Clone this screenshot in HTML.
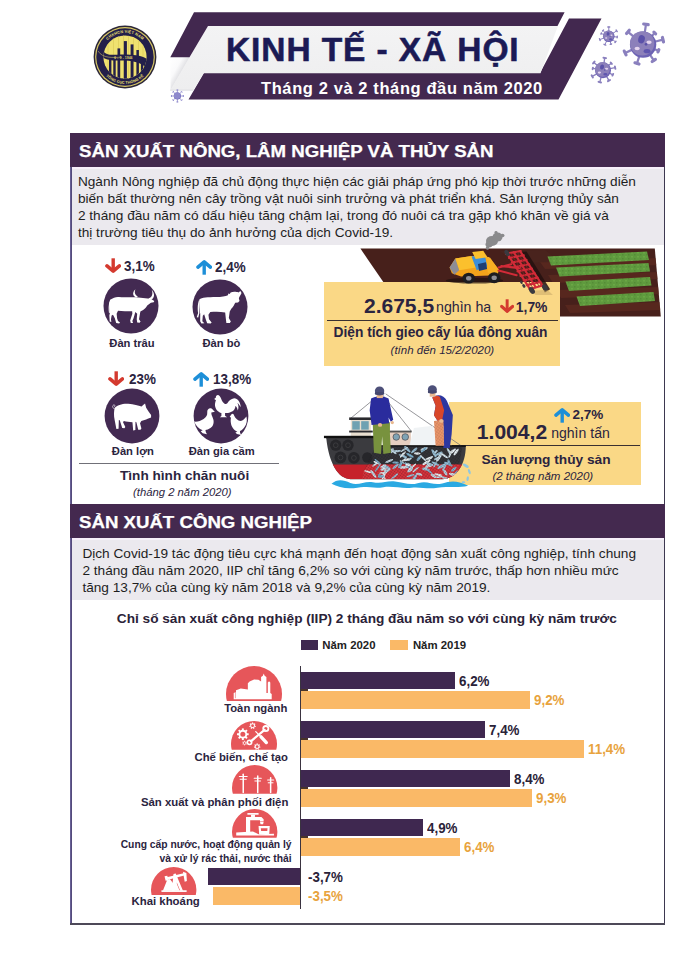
<!DOCTYPE html>
<html><head><meta charset="utf-8">
<style>
html,body{margin:0;padding:0;background:#fff;}
body{width:679px;height:960px;position:relative;overflow:hidden;font-family:"Liberation Sans",sans-serif;color:#222;}
.abs{position:absolute;white-space:nowrap;}
.b{font-weight:bold;}
.fl{position:absolute;}
.hdr{position:absolute;left:70.3px;width:595px;height:33.9px;background:#44294f;}
.lav{position:absolute;left:72px;width:591.6px;height:2.4px;background:#f7effa;}
.hdr span{position:absolute;left:8.5px;top:0.8px;line-height:35px;color:#fff;font-weight:bold;font-size:15.6px;white-space:nowrap;transform:scaleX(1.195);transform-origin:0 50%;-webkit-text-stroke:0.25px #fff;}
.gray{position:absolute;left:72px;width:591.6px;background:#ebe9ee;}
.p{position:absolute;left:77.9px;font-size:13.65px;line-height:17px;white-space:nowrap;color:#1e1e1e;}
</style></head><body>


<!-- TOP BANNER -->
<svg class="abs" style="left:0;top:0" width="679" height="125" viewBox="0 0 679 125">
  <defs>
    <linearGradient id="fold" gradientUnits="userSpaceOnUse" x1="166" y1="66" x2="182" y2="75">
      <stop offset="0" stop-color="#ffffff"/><stop offset="0.55" stop-color="#fafafb"/><stop offset="1" stop-color="#d9d9dd"/>
    </linearGradient>
    <linearGradient id="wb" x1="0" y1="0" x2="0" y2="1">
      <stop offset="0" stop-color="#f3f3f4"/><stop offset="1" stop-color="#eeeeef"/>
    </linearGradient>
  </defs>
  <!-- lower/right purple -->
  <polygon points="204,73 540,73 569,18.5 601.5,18.5 558.5,99.5 188.5,99.5" fill="#42284f"/>
  <!-- white band -->
  <polygon points="208,25.7 558,25.7 540.5,73.3 203.5,73.3 193.5,90 170.6,90" fill="url(#wb)"/>
  <!-- fold -->
  <polygon points="170.3,57 189.8,57 170.6,90" fill="url(#fold)"/>
  <rect x="170" y="89.7" width="23.5" height="0.9" fill="#dadade"/>
  <!-- top purple -->
  <polygon points="194,12.2 564.6,12.2 557.5,25.9 208,25.9 189.5,57.2 170.3,57.2" fill="#42284f"/>
</svg>
<div class="abs b" id="title" style="left:226px;top:30px;font-size:33.5px;line-height:40px;color:#1b1a55;letter-spacing:0.9px;-webkit-text-stroke:0.55px #1b1a55">KINH TẾ - XÃ HỘI</div>
<div class="abs b" id="subtitle" style="left:261px;top:77.5px;font-size:16.5px;line-height:20px;color:#fff;letter-spacing:0.6px">Tháng 2 và 2 tháng đầu năm 2020</div>

<svg class="abs" style="left:0;top:0" width="679" height="125" viewBox="0 0 679 125"><g transform="translate(643.1,44.6)"><line x1="1.65" y1="-11.76" x2="2.85" y2="-20.26" stroke="#8a80be" stroke-width="2.24" stroke-linecap="round"/><line x1="0.58" y1="-20.58" x2="5.11" y2="-19.94" stroke="#8a80be" stroke-width="3.17" stroke-linecap="round"/><line x1="8.40" y1="-8.40" x2="11.67" y2="-11.67" stroke="#8a80be" stroke-width="2.24" stroke-linecap="round"/><line x1="10.80" y1="-12.54" x2="12.54" y2="-10.80" stroke="#8a80be" stroke-width="3.17" stroke-linecap="round"/><line x1="11.53" y1="-2.87" x2="19.85" y2="-4.95" stroke="#8a80be" stroke-width="2.24" stroke-linecap="round"/><line x1="19.30" y1="-7.17" x2="20.41" y2="-2.73" stroke="#8a80be" stroke-width="3.17" stroke-linecap="round"/><line x1="11.01" y1="4.45" x2="15.30" y2="6.18" stroke="#8a80be" stroke-width="2.24" stroke-linecap="round"/><line x1="15.76" y1="5.04" x2="14.84" y2="7.32" stroke="#8a80be" stroke-width="3.17" stroke-linecap="round"/><line x1="6.64" y1="9.85" x2="10.70" y2="15.87" stroke="#8a80be" stroke-width="2.24" stroke-linecap="round"/><line x1="12.31" y1="14.79" x2="9.10" y2="16.95" stroke="#8a80be" stroke-width="3.17" stroke-linecap="round"/><line x1="-3.67" y1="11.30" x2="-6.12" y2="18.83" stroke="#8a80be" stroke-width="2.24" stroke-linecap="round"/><line x1="-4.11" y1="19.48" x2="-8.13" y2="18.18" stroke="#8a80be" stroke-width="3.17" stroke-linecap="round"/><line x1="-10.77" y1="5.02" x2="-17.94" y2="8.37" stroke="#8a80be" stroke-width="2.24" stroke-linecap="round"/><line x1="-17.05" y1="10.28" x2="-18.84" y2="6.45" stroke="#8a80be" stroke-width="3.17" stroke-linecap="round"/><line x1="-9.10" y1="-7.64" x2="-15.17" y2="-12.73" stroke="#8a80be" stroke-width="2.24" stroke-linecap="round"/><line x1="-16.53" y1="-11.11" x2="-13.81" y2="-14.35" stroke="#8a80be" stroke-width="3.17" stroke-linecap="round"/><circle r="13.2" fill="#6c62b4"/><circle cx="-0.92" cy="-1.19" r="12.14" fill="#8c80ba"/><ellipse cx="-2.90" cy="-4.75" rx="3.30" ry="4.22" fill="#5b51a9" transform="rotate(15)"/><ellipse cx="5.94" cy="-2.38" rx="2.64" ry="1.72" fill="#e4d4ee"/><ellipse cx="-5.94" cy="3.96" rx="2.64" ry="1.72" fill="#e4d4ee"/><circle cx="2.90" cy="-0.26" r="1.32" fill="#5b51a9"/><ellipse cx="3.96" cy="6.60" rx="3.43" ry="2.11" fill="#5f55ae"/></g><g transform="translate(608.8,36.3)"><line x1="0.00" y1="-5.22" x2="0.00" y2="-9.28" stroke="#8a80be" stroke-width="0.99" stroke-linecap="round"/><line x1="-0.95" y1="-9.28" x2="0.95" y2="-9.28" stroke="#8a80be" stroke-width="1.39" stroke-linecap="round"/><line x1="4.28" y1="-2.99" x2="7.84" y2="-5.49" stroke="#8a80be" stroke-width="0.99" stroke-linecap="round"/><line x1="7.26" y1="-6.32" x2="8.42" y2="-4.66" stroke="#8a80be" stroke-width="1.39" stroke-linecap="round"/><line x1="5.20" y1="0.45" x2="8.38" y2="0.73" stroke="#8a80be" stroke-width="0.99" stroke-linecap="round"/><line x1="8.44" y1="-0.01" x2="8.31" y2="1.47" stroke="#8a80be" stroke-width="1.39" stroke-linecap="round"/><line x1="4.00" y1="3.36" x2="6.66" y2="5.59" stroke="#8a80be" stroke-width="0.99" stroke-linecap="round"/><line x1="7.19" y1="4.97" x2="6.14" y2="6.21" stroke="#8a80be" stroke-width="1.39" stroke-linecap="round"/><line x1="1.35" y1="5.04" x2="2.10" y2="7.84" stroke="#8a80be" stroke-width="0.99" stroke-linecap="round"/><line x1="2.76" y1="7.67" x2="1.45" y2="8.02" stroke="#8a80be" stroke-width="1.39" stroke-linecap="round"/><line x1="-2.21" y1="4.73" x2="-3.92" y2="8.41" stroke="#8a80be" stroke-width="0.99" stroke-linecap="round"/><line x1="-3.06" y1="8.81" x2="-4.78" y2="8.01" stroke="#8a80be" stroke-width="1.39" stroke-linecap="round"/><line x1="-4.91" y1="1.79" x2="-8.99" y2="3.27" stroke="#8a80be" stroke-width="0.99" stroke-linecap="round"/><line x1="-8.65" y1="4.23" x2="-9.34" y2="2.32" stroke="#8a80be" stroke-width="1.39" stroke-linecap="round"/><line x1="-4.91" y1="-1.79" x2="-7.63" y2="-2.78" stroke="#8a80be" stroke-width="0.99" stroke-linecap="round"/><line x1="-7.86" y1="-2.14" x2="-7.40" y2="-3.41" stroke="#8a80be" stroke-width="1.39" stroke-linecap="round"/><line x1="-3.69" y1="-3.69" x2="-5.74" y2="-5.74" stroke="#8a80be" stroke-width="0.99" stroke-linecap="round"/><line x1="-6.22" y1="-5.26" x2="-5.26" y2="-6.22" stroke="#8a80be" stroke-width="1.39" stroke-linecap="round"/><circle r="5.8" fill="#6c62b4"/><circle cx="-0.41" cy="-0.52" r="5.34" fill="#8c80ba"/><ellipse cx="-1.28" cy="-2.09" rx="1.45" ry="1.86" fill="#5b51a9" transform="rotate(15)"/><ellipse cx="2.61" cy="-1.04" rx="1.16" ry="0.75" fill="#e4d4ee"/><ellipse cx="-2.61" cy="1.74" rx="1.16" ry="0.75" fill="#e4d4ee"/><circle cx="1.28" cy="-0.12" r="0.58" fill="#5b51a9"/><ellipse cx="1.74" cy="2.90" rx="1.51" ry="0.93" fill="#5f55ae"/></g><g transform="translate(603,70.2)"><line x1="1.00" y1="-7.13" x2="1.73" y2="-12.28" stroke="#8a80be" stroke-width="1.36" stroke-linecap="round"/><line x1="0.44" y1="-12.46" x2="3.01" y2="-12.10" stroke="#8a80be" stroke-width="1.92" stroke-linecap="round"/><line x1="5.52" y1="-4.63" x2="8.27" y2="-6.94" stroke="#8a80be" stroke-width="1.36" stroke-linecap="round"/><line x1="7.69" y1="-7.63" x2="8.85" y2="-6.25" stroke="#8a80be" stroke-width="1.92" stroke-linecap="round"/><line x1="7.04" y1="-1.50" x2="12.13" y2="-2.58" stroke="#8a80be" stroke-width="1.36" stroke-linecap="round"/><line x1="11.86" y1="-3.85" x2="12.40" y2="-1.31" stroke="#8a80be" stroke-width="1.92" stroke-linecap="round"/><line x1="6.53" y1="3.04" x2="9.79" y2="4.56" stroke="#8a80be" stroke-width="1.36" stroke-linecap="round"/><line x1="10.17" y1="3.75" x2="9.41" y2="5.38" stroke="#8a80be" stroke-width="1.92" stroke-linecap="round"/><line x1="3.60" y1="6.24" x2="6.00" y2="10.39" stroke="#8a80be" stroke-width="1.36" stroke-linecap="round"/><line x1="7.04" y1="9.79" x2="4.96" y2="10.99" stroke="#8a80be" stroke-width="1.92" stroke-linecap="round"/><line x1="-1.86" y1="6.95" x2="-3.21" y2="11.98" stroke="#8a80be" stroke-width="1.36" stroke-linecap="round"/><line x1="-1.95" y1="12.31" x2="-4.47" y2="11.64" stroke="#8a80be" stroke-width="1.92" stroke-linecap="round"/><line x1="-6.24" y1="3.60" x2="-10.74" y2="6.20" stroke="#8a80be" stroke-width="1.36" stroke-linecap="round"/><line x1="-10.09" y1="7.33" x2="-11.39" y2="5.07" stroke="#8a80be" stroke-width="1.92" stroke-linecap="round"/><line x1="-7.09" y1="-1.25" x2="-10.24" y2="-1.81" stroke="#8a80be" stroke-width="1.36" stroke-linecap="round"/><line x1="-10.38" y1="-1.02" x2="-10.10" y2="-2.59" stroke="#8a80be" stroke-width="1.92" stroke-linecap="round"/><line x1="-5.52" y1="-4.63" x2="-9.19" y2="-7.71" stroke="#8a80be" stroke-width="1.36" stroke-linecap="round"/><line x1="-9.96" y1="-6.79" x2="-8.42" y2="-8.63" stroke="#8a80be" stroke-width="1.92" stroke-linecap="round"/><circle r="8" fill="#6c62b4"/><circle cx="-0.56" cy="-0.72" r="7.36" fill="#8c80ba"/><ellipse cx="-1.76" cy="-2.88" rx="2.00" ry="2.56" fill="#5b51a9" transform="rotate(15)"/><ellipse cx="3.60" cy="-1.44" rx="1.60" ry="1.04" fill="#e4d4ee"/><ellipse cx="-3.60" cy="2.40" rx="1.60" ry="1.04" fill="#e4d4ee"/><circle cx="1.76" cy="-0.16" r="0.80" fill="#5b51a9"/><ellipse cx="2.40" cy="4.00" rx="2.08" ry="1.28" fill="#5f55ae"/></g><g transform="translate(177.4,96)"><line x1="0.00" y1="-3.24" x2="0.00" y2="-5.94" stroke="#8d88cc" stroke-width="0.80" stroke-linecap="round"/><line x1="-0.54" y1="-5.94" x2="0.54" y2="-5.94" stroke="#8d88cc" stroke-width="1.00" stroke-linecap="round"/><line x1="2.29" y1="-2.29" x2="4.20" y2="-4.20" stroke="#8d88cc" stroke-width="0.80" stroke-linecap="round"/><line x1="3.82" y1="-4.58" x2="4.58" y2="-3.82" stroke="#8d88cc" stroke-width="1.00" stroke-linecap="round"/><line x1="3.24" y1="0.00" x2="5.94" y2="0.00" stroke="#8d88cc" stroke-width="0.80" stroke-linecap="round"/><line x1="5.94" y1="-0.54" x2="5.94" y2="0.54" stroke="#8d88cc" stroke-width="1.00" stroke-linecap="round"/><line x1="2.29" y1="2.29" x2="4.20" y2="4.20" stroke="#8d88cc" stroke-width="0.80" stroke-linecap="round"/><line x1="4.58" y1="3.82" x2="3.82" y2="4.58" stroke="#8d88cc" stroke-width="1.00" stroke-linecap="round"/><line x1="0.00" y1="3.24" x2="0.00" y2="5.94" stroke="#8d88cc" stroke-width="0.80" stroke-linecap="round"/><line x1="0.54" y1="5.94" x2="-0.54" y2="5.94" stroke="#8d88cc" stroke-width="1.00" stroke-linecap="round"/><line x1="-2.29" y1="2.29" x2="-4.20" y2="4.20" stroke="#8d88cc" stroke-width="0.80" stroke-linecap="round"/><line x1="-3.82" y1="4.58" x2="-4.58" y2="3.82" stroke="#8d88cc" stroke-width="1.00" stroke-linecap="round"/><line x1="-3.24" y1="0.00" x2="-5.94" y2="0.00" stroke="#8d88cc" stroke-width="0.80" stroke-linecap="round"/><line x1="-5.94" y1="0.54" x2="-5.94" y2="-0.54" stroke="#8d88cc" stroke-width="1.00" stroke-linecap="round"/><line x1="-2.29" y1="-2.29" x2="-4.20" y2="-4.20" stroke="#8d88cc" stroke-width="0.80" stroke-linecap="round"/><line x1="-4.58" y1="-3.82" x2="-3.82" y2="-4.58" stroke="#8d88cc" stroke-width="1.00" stroke-linecap="round"/><circle r="3.6" fill="#6f68ba"/><circle cx="-0.25" cy="-0.32" r="3.31" fill="#8d88cc"/></g></svg>
<svg class="abs" style="left:92px;top:24px" width="66" height="66" viewBox="-33 -33 66 66">
  <defs>
    <clipPath id="lc"><circle r="21.6"/></clipPath>
    <path id="arcT" d="M -24.2 0 A 24.2 24.2 0 0 1 24.2 0"/>
    <path id="arcB" d="M -26.8 0 A 26.8 26.8 0 0 0 26.8 0"/>
  </defs>
  <circle r="31.4" fill="#2b2638"/>
  <circle r="29.9" fill="#d9c965"/>
  <circle r="28.7" fill="#231f4a"/>
  <circle r="21.6" fill="#efe170"/>
  <g clip-path="url(#lc)">
    <g fill="#e2d25f">
      <rect x="-17.5" y="-22" width="1" height="44"/><rect x="-12" y="-22" width="1" height="44"/><rect x="-7" y="-22" width="1" height="44"/>
      <rect x="-2" y="-22" width="1" height="44"/><rect x="3" y="-22" width="1" height="44"/><rect x="8" y="-22" width="1" height="44"/><rect x="13" y="-22" width="1" height="44"/><rect x="17.5" y="-22" width="1" height="44"/>
    </g>
    <g fill="#231f4a">
      <rect x="-16" y="2" width="2.4" height="22"/>
      <rect x="-11.7" y="2" width="2.4" height="22"/>
      <rect x="-7.5" y="-8.6" width="2.7" height="33"/>
      <rect x="-1.2" y="-15.9" width="3.1" height="40"/>
      <rect x="5.6" y="-12.6" width="2.9" height="36"/>
      <rect x="11.4" y="-7" width="2.5" height="31"/>
      <rect x="15.9" y="2" width="2.3" height="22"/>
      <path d="M -24 -12 C -22 0 -14 -2.3 -4 -2.4 C 8 -2.5 16 -1.8 24 3 L 24 13 C 16 5 8 3.6 -4 3.6 C -14 3.6 -24 3.4 -26 -6 Z"/>
    </g>
  </g>
  <path d="M -27 -6 C -22 2 -12 0.3 -3 0.3" stroke="#e8d96a" stroke-width="0.5" fill="none"/>
  <text font-family="Liberation Sans" font-weight="bold" font-size="3.9" fill="#efe170" text-anchor="middle" letter-spacing="0.15"><textPath href="#arcT" startOffset="50%">CHXHCN VIỆT NAM</textPath></text>
  <text font-family="Liberation Sans" font-weight="bold" font-size="3.7" fill="#efe170" text-anchor="middle" letter-spacing="0.1"><textPath href="#arcB" startOffset="50%">TỔNG CỤC THỐNG KÊ</textPath></text>
  <text y="1.6" x="-1.5" font-family="Liberation Sans" font-weight="bold" font-size="2.9" fill="#efe170" text-anchor="middle" letter-spacing="0.3">6 - 5 - 1946</text>
</svg>

<!-- FRAME -->
<div class="fl" style="left:70px;top:133.4px;width:2px;height:791.3px;background:linear-gradient(90deg,#7169a0,#4a4170)"></div>
<div class="fl" style="left:663.6px;top:133.4px;width:1.7px;height:791.3px;background:#3d3850"></div>
<div class="fl" style="left:70px;top:923px;width:595.3px;height:1.7px;background:#4d4958"></div>

<!-- SECTION 1 -->
<div class="hdr" style="top:133px"><span>SẢN XUẤT NÔNG, LÂM NGHIỆP VÀ THỦY SẢN</span></div>
<div class="lav" style="top:166.6px"></div><div class="gray" style="top:168.7px;height:76.6px"></div>
<div class="p" style="top:173px">Ngành Nông nghiệp đã chủ động thực hiện các giải pháp ứng phó kịp thời trước những diễn<br>biến bất thường nên cây trồng vật nuôi sinh trưởng và phát triển khá. Sản lượng thủy sản<br>2 tháng đầu năm có dấu hiệu tăng chậm lại, trong đó nuôi cá tra gặp khó khăn về giá và<br>thị trường tiêu thụ do ảnh hưởng của dịch Covid-19.</div>


<!-- LIVESTOCK -->
<svg class="abs" style="left:100.8px;top:275.6px" width="60" height="60" viewBox="0 0 60 60"><circle cx="30" cy="30" r="27.5" fill="#432a52"/><g transform="translate(-0.80,-0.60) scale(0.09132)" fill="#fff"><path d="M108,268 C140,245 175,232 205,236 C250,244 300,238 335,240 C355,240 372,236 392,240 L545,256 L562,262 L592,280 L586,293 L555,299 C540,310 525,318 515,330 C505,350 490,365 470,378 L440,395 L425,480 L442,505 L432,519 L405,516 L400,480 L405,420 L385,400 L365,470 L352,500 L360,521 L335,521 L328,495 L352,420 L350,392 C300,390 240,392 195,386 L180,420 L185,470 L195,500 L217,515 L207,526 L175,521 L160,470 L140,430 L125,440 L118,480 L122,511 L104,506 L100,440 L108,400 C100,380 98,340 100,300 Z"/>
<path d="M392,242 C358,226 346,190 386,152 C370,190 382,214 414,232 Z"/>
<path d="M528,252 C560,244 584,214 564,158 C602,200 597,252 553,270 Z"/>
<path d="M104,285 C90,320 90,370 96,412 L107,409 C102,370 104,320 113,292 Z"/></g></svg>
<svg class="abs" style="left:189.9px;top:276.5px" width="60" height="60" viewBox="0 0 60 60"><circle cx="30" cy="30" r="27.5" fill="#432a52"/><g transform="translate(-0.90,-1.50) scale(0.09132)" fill="#fff"><path d="M112,262 C140,240 200,238 300,236 C350,234 400,228 425,215 L430,196 L445,202 L455,185 C480,175 520,178 540,185 L562,170 L574,192 C565,215 550,232 545,250 L552,280 L536,296 L505,298 C495,320 480,345 462,365 L445,395 L435,465 L457,505 L446,521 L408,519 L402,470 L395,405 C340,395 280,398 232,400 L212,430 L218,480 L247,515 L236,526 L198,523 L182,480 L165,425 L150,440 L145,500 L167,523 L135,526 L121,500 L122,420 C112,380 108,320 112,262 Z"/>
<path d="M108,270 C90,320 93,380 99,410 L83,456 L100,461 L113,412 C106,370 106,320 117,280 Z"/></g></svg>
<svg class="abs" style="left:102.1px;top:386.2px" width="60" height="60" viewBox="0 0 60 60"><circle cx="30" cy="30" r="27.4" fill="#432a52"/><g transform="translate(-1.05,-1.20) scale(0.09132)" fill="#fff"><path d="M152,252 C175,222 240,203 300,208 C360,212 410,228 445,238 L462,222 L483,206 L495,250 C512,275 530,305 549,330 L549,357 L512,373 C490,385 465,392 442,396 L428,420 L443,478 L433,493 L408,491 L388,410 L378,405 L377,496 L353,501 L345,410 C310,408 280,402 250,396 L242,410 L267,463 L257,477 L233,473 L206,388 L196,385 L193,481 L169,483 L150,385 C140,340 140,290 152,252 Z"/>
<path d="M156,264 C130,264 118,232 138,221 C154,214 160,238 144,241" fill="none" stroke="#fff" stroke-width="7"/></g></svg>
<svg class="abs" style="left:191.1px;top:385.9px" width="60" height="60" viewBox="0 0 60 60"><circle cx="30" cy="30" r="27.4" fill="#432a52"/><g transform="translate(-1.10,-0.90) scale(0.09132)" fill="#fff"><path d="M266,153 L285,135 C280,110 310,98 325,118 C340,135 345,160 360,185 C375,205 395,215 410,200 C425,175 450,150 485,145 C525,148 550,185 558,242 C545,225 535,205 520,195 C535,220 535,250 525,277 C518,250 510,235 498,228 C500,255 480,285 455,292 C435,305 410,308 385,305 L385,335 L407,351 L360,353 L328,353 L345,338 L345,305 C310,295 280,265 275,225 C272,200 280,180 285,165 Z"/>
<path d="M274,292 L235,301 C232,320 245,345 255,370 C268,410 255,450 225,470 C205,485 185,490 170,492 L175,515 L187,537 L140,526 L118,505 L140,495 C100,480 65,445 46,399 C80,405 120,390 150,370 C180,350 192,330 190,300 C185,265 215,245 240,258 C255,268 258,280 274,292 Z"/>
<path d="M436,346 L452,325 C460,306 480,313 485,335 C500,365 525,390 555,392 C580,390 600,365 619,343 C631,385 620,430 600,455 C585,480 565,495 548,502 L550,525 L562,547 L515,536 L498,520 L520,510 C480,495 452,455 448,410 C445,385 448,365 450,358 Z"/></g></svg>
<svg class="abs" style="left:104.9px;top:257.9px" width="16.4" height="15.0" viewBox="0 0 16.4 15" preserveAspectRatio="none"><g fill="none" stroke="#d43a2f" stroke-linejoin="round"><path d="M8.2,0.3 L8.2,11.5" stroke-width="3.4" stroke-linecap="butt"/><path d="M2,7.9 L8.2,13.1 L14.4,7.9" stroke-width="3.6" stroke-linecap="round"/></g></svg>
<svg class="abs" style="left:195.8px;top:259.9px" width="16.4" height="15.0" viewBox="0 0 16.4 15" preserveAspectRatio="none"><g transform="rotate(180 8.2 7.5)" fill="none" stroke="#1d8fd8" stroke-linejoin="round"><path d="M8.2,0.3 L8.2,11.5" stroke-width="3.4" stroke-linecap="butt"/><path d="M2,7.9 L8.2,13.1 L14.4,7.9" stroke-width="3.6" stroke-linecap="round"/></g></svg>
<svg class="abs" style="left:107.9px;top:371.4px" width="16.4" height="15.0" viewBox="0 0 16.4 15" preserveAspectRatio="none"><g fill="none" stroke="#d43a2f" stroke-linejoin="round"><path d="M8.2,0.3 L8.2,11.5" stroke-width="3.4" stroke-linecap="butt"/><path d="M2,7.9 L8.2,13.1 L14.4,7.9" stroke-width="3.6" stroke-linecap="round"/></g></svg>
<svg class="abs" style="left:193.1px;top:371.9px" width="16.4" height="15.0" viewBox="0 0 16.4 15" preserveAspectRatio="none"><g transform="rotate(180 8.2 7.5)" fill="none" stroke="#1d8fd8" stroke-linejoin="round"><path d="M8.2,0.3 L8.2,11.5" stroke-width="3.4" stroke-linecap="butt"/><path d="M2,7.9 L8.2,13.1 L14.4,7.9" stroke-width="3.6" stroke-linecap="round"/></g></svg>
<div class="abs b" style="left:123.8px;top:257.8px;font-size:14.3px;line-height:16px;color:#2b2440;transform:scaleX(0.94);transform-origin:0 50%">3,1%</div>
<div class="abs b" style="left:214.7px;top:259.3px;font-size:14.3px;line-height:16px;color:#2b2440;transform:scaleX(0.94);transform-origin:0 50%">2,4%</div>
<div class="abs b" style="left:129.3px;top:370.8px;font-size:14.3px;line-height:16px;color:#2b2440;transform:scaleX(0.94);transform-origin:0 50%">23%</div>
<div class="abs b" style="left:212.7px;top:371.3px;font-size:14.3px;line-height:16px;color:#2b2440;transform:scaleX(0.94);transform-origin:0 50%">13,8%</div>
<div class="abs b" style="left:72px;width:120px;text-align:center;top:335.5px;font-size:11.2px;line-height:14px;color:#2b2440">Đàn trâu</div>
<div class="abs b" style="left:161.4px;width:120px;text-align:center;top:335.5px;font-size:11.2px;line-height:14px;color:#2b2440">Đàn bò</div>
<div class="abs b" style="left:72.9px;width:120px;text-align:center;top:444.2px;font-size:11.2px;line-height:14px;color:#2b2440">Đàn lợn</div>
<div class="abs b" style="left:161.7px;width:120px;text-align:center;top:444.2px;font-size:11.2px;line-height:14px;color:#2b2440">Đàn gia cầm</div>
<div class="abs" style="left:78.7px;top:462.9px;width:200.5px;height:1.4px;background:#707078"></div>
<div class="abs b" style="left:84.6px;width:200px;text-align:center;top:468.4px;font-size:13.6px;line-height:16px;color:#2b2440">Tình hình chăn nuôi</div>
<div class="abs" style="left:82.3px;width:200px;text-align:center;top:484.5px;font-size:11.3px;line-height:14px;font-style:italic;color:#2b2440">(tháng 2 năm 2020)</div>


<!-- FIELD -->
<svg class="abs" style="left:0;top:0" width="679" height="500" viewBox="0 0 679 500">
  <defs>
    <clipPath id="fclip"><polygon points="360.4,248.6 654.8,248.6 660.8,316.6 407,316.6"/></clipPath>
    <pattern id="grass" width="6" height="4" patternUnits="userSpaceOnUse">
      <rect width="6" height="4" fill="#5f9a3e"/><rect x="1" y="0" width="2" height="1.5" fill="#6aa845"/><rect x="4" y="2" width="1.5" height="1.5" fill="#548c36"/>
    </pattern>
  </defs>
  <polygon points="360.4,248.6 654.8,248.6 660.8,316.6 407,316.6" fill="#47201b"/>
  <g clip-path="url(#fclip)">
    <polygon points="540,262 660,258 660,265 545,269" fill="#5c2a20" opacity="0.75"/>
    <polygon points="548,275 660,272 660,279 553,283" fill="#5c2a20" opacity="0.75"/>
    <polygon points="556,290 662,287 662,294 561,298" fill="#5c2a20" opacity="0.75"/>
    <polygon points="565,305 662,302 662,310 570,313" fill="#5c2a20" opacity="0.75"/>
    <polygon points="500,251 545,250 560,262 515,263" fill="#4a241e" opacity="0.8"/>
  </g>
  <!-- green rows -->
  <polygon points="547.5,256.5 647,251.5 649,260 551,265.5" fill="url(#grass)"/>
  <polygon points="556,267.5 648.5,263 650,271.5 559.5,276.5" fill="url(#grass)"/>
  <polygon points="565.5,281.5 650,277 651.5,285.5 569,291" fill="url(#grass)"/>
  <polygon points="576.5,296.5 653.5,292 655,301 580,306" fill="url(#grass)"/>
</svg>

<!-- YELLOW BOX 1 -->
<div class="abs" style="left:324px;top:282.4px;width:236.3px;height:83.9px;background:#fad886"></div>
<div class="abs" style="left:327px;top:320.1px;width:230.5px;height:1.1px;background:#3a3030"></div>
<div class="abs b" style="left:364px;top:292.5px;font-size:21px;line-height:26px;color:#2b2440">2.675,5</div>
<div class="abs" style="left:436px;top:298px;font-size:14.2px;line-height:18px;color:#2b2440">nghìn ha</div>
<svg class="abs" style="left:500.1px;top:299.1px" width="14.3" height="14.1" viewBox="0 0 16.4 15" preserveAspectRatio="none"><g fill="none" stroke="#d43a2f" stroke-linejoin="round"><path d="M8.2,0.3 L8.2,11.5" stroke-width="3.4" stroke-linecap="butt"/><path d="M2,7.9 L8.2,13.1 L14.4,7.9" stroke-width="3.6" stroke-linecap="round"/></g></svg>
<div class="abs b" style="left:515.8px;top:297.5px;font-size:13.9px;line-height:18px;color:#2b2440">1,7%</div>
<div class="abs b" style="left:333.6px;top:323.7px;font-size:13.75px;line-height:18px;color:#2b2440" id="dt">Diện tích gieo cấy lúa đông xuân</div>
<div class="abs" style="left:390.6px;top:343.2px;font-size:11.5px;line-height:15px;font-style:italic;color:#2b2440" id="td">(tính đến 15/2/2020)</div>
<svg class="abs" style="left:0;top:0" width="679" height="500" viewBox="0 0 679 500">
  <!-- smoke -->
  <g fill="#8a8a8c">
    <ellipse cx="492" cy="241" rx="6" ry="5"/><ellipse cx="497.500" cy="237" rx="5" ry="4.500"/><ellipse cx="489" cy="244.500" rx="3.500" ry="3"/><ellipse cx="502.500" cy="235.500" rx="2" ry="1.800"/><ellipse cx="496" cy="232.300" rx="1.500" ry="1.200"/><ellipse cx="487.500" cy="248" rx="1.800" ry="1.800"/>
  </g>
  <!-- tractor: coords in zoom space (origin 440,225 scale 5.223) -->
  <g transform="translate(440,225) scale(0.19146)">
    <g transform="translate(0,-12.2) scale(1,1.09)">
    <ellipse cx="180" cy="278" rx="150" ry="14" fill="#1e100e" opacity="0.7"/>
    <polygon points="50,215 80,172 165,160 255,165 308,225 300,252 110,258 62,242" fill="#f3a31b"/>
    <polygon points="80,172 165,160 188,215 100,228" fill="#fbc02d"/>
    <polygon points="50,215 80,172 100,228 74,250" fill="#8d8d95"/>
    <polygon points="165,162 232,152 248,208 192,228" fill="#3c8fda"/>
    <polygon points="198,198 240,190 246,222 204,232" fill="#1d3f73"/>
    <polygon points="168,140 226,134 248,166 186,174" fill="#fbc02d"/>
    <polygon points="240,165 262,168 306,226 300,250 250,240" fill="#f7b023"/>
    <ellipse cx="150" cy="266" rx="33" ry="26" fill="#1c1c20"/><ellipse cx="150" cy="266" rx="14" ry="11" fill="#8d8d95"/>
    <ellipse cx="283" cy="264" rx="33" ry="26" fill="#1c1c20"/><ellipse cx="283" cy="264" rx="14" ry="11" fill="#8d8d95"/>
    </g>
    <!-- plow -->
    <polygon points="428,140 452,138 575,335 548,352" fill="#24110f" opacity="0.85"/>
    <polygon points="470,345 560,338 590,366 500,366" fill="#c9a96a" opacity="0.55"/>
    <g stroke="#d22b38" stroke-width="11" fill="none" stroke-linecap="round">
      <path d="M306,222 L372,205 M306,238 L400,262 M320,215 L420,225"/>
      <path d="M350,148 L470,335 M385,142 L500,325 M418,136 L535,315"/>
      <path d="M345,150 L422,136 M360,172 L438,158 M375,196 L452,182 M390,219 L466,205 M405,242 L480,228 M420,266 L495,252 M437,290 L510,275 M453,314 L525,298 M468,335 L535,316"/>
    </g>
    <g stroke="#8e1a25" stroke-width="4" fill="none"><path d="M368,146 L486,330 M402,140 L518,320"/></g>
    <g fill="#3a3a40">
      <ellipse cx="350" cy="146" rx="18" ry="11" transform="rotate(55 350 146)"/>
      <ellipse cx="480" cy="342" rx="20" ry="13" transform="rotate(55 480 342)"/>
      <ellipse cx="548" cy="326" rx="18" ry="12" transform="rotate(55 548 326)"/>
      <ellipse cx="438" cy="318" rx="11" ry="7" transform="rotate(55 438 318)"/>
      <ellipse cx="425" cy="300" rx="9" ry="6" transform="rotate(55 425 300)"/>
    </g>
  </g>
</svg>


<!-- YELLOW BOX 2 -->
<div class="abs" style="left:448.6px;top:402px;width:192.6px;height:82.8px;background:#fad886"></div>
<div class="abs" style="left:452px;top:444.9px;width:188px;height:1.1px;background:#3a3030"></div>
<!-- BOAT -->
<svg class="abs" style="left:0;top:0" width="679" height="500" viewBox="0 0 679 500">
 <defs>
  <pattern id="mesh" width="10" height="10" patternUnits="userSpaceOnUse" patternTransform="rotate(35)">
    <path d="M0,0 L10,0 M0,0 L0,10" stroke="#15151a" stroke-width="1.6" fill="none"/>
  </pattern>
  <clipPath id="hull"><path d="M40,262 L640,300 C640,380 600,440 540,442 L150,442 C100,440 60,380 48,270 Z"/></clipPath>
 </defs>
 <g transform="translate(315,375) scale(0.23563)">
  <!-- ropes -->
  <g stroke="#6b6b70" stroke-width="3" fill="none">
    <path d="M268,88 L150,185 M285,82 L410,240 M300,80 L620,300"/>
  </g>
  <!-- cabin -->
  <rect x="152" y="188" width="85" height="75" fill="#e9dfcf"/>
  <rect x="145" y="180" width="100" height="11" fill="#2a2a2e"/>
  <rect x="145" y="236" width="100" height="8" fill="#2a2a2e"/>
  <rect x="158" y="196" width="32" height="36" fill="#6fa2b2"/><rect x="196" y="196" width="32" height="36" fill="#6fa2b2"/>
  <rect x="315" y="240" width="92" height="64" fill="#e6cfc0"/>
  <rect x="310" y="236" width="100" height="8" fill="#555"/>
  <circle cx="345" cy="263" r="14" fill="#7fa3b5" stroke="#4a4a50" stroke-width="3"/><circle cx="383" cy="263" r="14" fill="#7fa3b5" stroke="#4a4a50" stroke-width="3"/>
  <!-- white net sail between ropes -->
  <polygon points="420,225 500,215 520,300 400,300" fill="#eef2f4" opacity="0.9"/>
  <!-- hull -->
  <path d="M40,262 L255,262 L255,300 L640,300 C640,380 600,440 540,442 L150,442 C100,440 60,380 48,270 Z" fill="#3b3b3f"/>
  <g clip-path="url(#hull)">
    <rect x="30" y="380" width="620" height="70" fill="#c6212b"/>
  </g>
  <rect x="38" y="258" width="220" height="10" fill="#111"/>
  <rect x="255" y="298" width="385" height="7" fill="#111"/>
  <!-- tires -->
  <g fill="#26262a"><circle cx="88" cy="298" r="24"/><circle cx="140" cy="298" r="24"/><circle cx="108" cy="350" r="25"/><circle cx="165" cy="352" r="25"/><circle cx="222" cy="350" r="22"/></g>
  <g fill="none" stroke="#3b3b3f" stroke-width="4"><circle cx="88" cy="298" r="10"/><circle cx="140" cy="298" r="10"/><circle cx="108" cy="350" r="10"/><circle cx="165" cy="352" r="10"/></g>
  <!-- net over hull -->
  <g clip-path="url(#hull)">
    <polygon points="255,300 625,305 612,380 225,380" fill="#2b2b30" opacity="0.5"/>
    <polygon points="225,380 612,380 600,445 200,445 205,410" fill="#d8323a"/>
    <ellipse cx="391" cy="384" rx="16" ry="5.6" fill="#7fb2cf" transform="rotate(59 391 384)"/><ellipse cx="289" cy="415" rx="18" ry="3.7" fill="#e9f1f5" transform="rotate(-3 289 415)"/><ellipse cx="333" cy="324" rx="17" ry="5.0" fill="#c9dfea" transform="rotate(43 333 324)"/><ellipse cx="370" cy="370" rx="13" ry="3.5" fill="#c9dfea" transform="rotate(33 370 370)"/><ellipse cx="421" cy="320" rx="17" ry="5.4" fill="#9cc3d9" transform="rotate(-43 421 320)"/><ellipse cx="342" cy="388" rx="17" ry="4.7" fill="#9cc3d9" transform="rotate(-43 342 388)"/><ellipse cx="473" cy="371" rx="20" ry="5.6" fill="#e9f1f5" transform="rotate(-31 473 371)"/><ellipse cx="491" cy="352" rx="12" ry="4.9" fill="#d5e6ef" transform="rotate(-38 491 352)"/><ellipse cx="328" cy="321" rx="12" ry="4.0" fill="#c9dfea" transform="rotate(-68 328 321)"/><ellipse cx="570" cy="372" rx="15" ry="4.9" fill="#7fb2cf" transform="rotate(67 570 372)"/><ellipse cx="292" cy="398" rx="15" ry="5.9" fill="#d5e6ef" transform="rotate(-23 292 398)"/><ellipse cx="511" cy="327" rx="12" ry="4.7" fill="#b8d4e3" transform="rotate(-36 511 327)"/><ellipse cx="405" cy="399" rx="14" ry="5.3" fill="#e9f1f5" transform="rotate(-44 405 399)"/><ellipse cx="266" cy="394" rx="20" ry="3.5" fill="#7fb2cf" transform="rotate(-54 266 394)"/><ellipse cx="552" cy="437" rx="14" ry="4.5" fill="#b8d4e3" transform="rotate(13 552 437)"/><ellipse cx="548" cy="394" rx="14" ry="4.1" fill="#9cc3d9" transform="rotate(-56 548 394)"/><ellipse cx="516" cy="354" rx="13" ry="4.0" fill="#b8d4e3" transform="rotate(-29 516 354)"/><ellipse cx="463" cy="314" rx="16" ry="5.9" fill="#e9f1f5" transform="rotate(-18 463 314)"/><ellipse cx="404" cy="386" rx="17" ry="4.3" fill="#9cc3d9" transform="rotate(51 404 386)"/><ellipse cx="304" cy="390" rx="18" ry="5.9" fill="#9cc3d9" transform="rotate(32 304 390)"/><ellipse cx="292" cy="434" rx="13" ry="3.6" fill="#e9f1f5" transform="rotate(54 292 434)"/><ellipse cx="258" cy="378" rx="18" ry="4.1" fill="#c9dfea" transform="rotate(-34 258 378)"/><ellipse cx="536" cy="388" rx="19" ry="5.9" fill="#9cc3d9" transform="rotate(-29 536 388)"/><ellipse cx="264" cy="373" rx="17" ry="4.2" fill="#e9f1f5" transform="rotate(21 264 373)"/><ellipse cx="573" cy="338" rx="15" ry="4.1" fill="#d5e6ef" transform="rotate(-68 573 338)"/><ellipse cx="422" cy="437" rx="19" ry="6.0" fill="#9cc3d9" transform="rotate(-57 422 437)"/><ellipse cx="471" cy="400" rx="17" ry="5.8" fill="#9cc3d9" transform="rotate(12 471 400)"/><ellipse cx="400" cy="358" rx="12" ry="5.1" fill="#b8d4e3" transform="rotate(-26 400 358)"/><ellipse cx="403" cy="406" rx="13" ry="4.9" fill="#b8d4e3" transform="rotate(-25 403 406)"/><ellipse cx="502" cy="427" rx="13" ry="5.9" fill="#c9dfea" transform="rotate(33 502 427)"/><ellipse cx="348" cy="323" rx="19" ry="4.5" fill="#b8d4e3" transform="rotate(-4 348 323)"/><ellipse cx="523" cy="423" rx="17" ry="4.4" fill="#e9f1f5" transform="rotate(10 523 423)"/><ellipse cx="315" cy="365" rx="18" ry="4.6" fill="#c9dfea" transform="rotate(-24 315 365)"/><ellipse cx="395" cy="381" rx="12" ry="5.0" fill="#e9f1f5" transform="rotate(3 395 381)"/><ellipse cx="403" cy="341" rx="18" ry="5.2" fill="#7fb2cf" transform="rotate(28 403 341)"/><ellipse cx="405" cy="427" rx="17" ry="4.0" fill="#9cc3d9" transform="rotate(-18 405 427)"/><ellipse cx="281" cy="428" rx="16" ry="4.1" fill="#7fb2cf" transform="rotate(22 281 428)"/><ellipse cx="373" cy="344" rx="19" ry="4.5" fill="#9cc3d9" transform="rotate(19 373 344)"/><ellipse cx="442" cy="353" rx="15" ry="5.7" fill="#7fb2cf" transform="rotate(-51 442 353)"/><ellipse cx="597" cy="417" rx="14" ry="4.0" fill="#7fb2cf" transform="rotate(-54 597 417)"/><ellipse cx="376" cy="392" rx="18" ry="5.6" fill="#d5e6ef" transform="rotate(-1 376 392)"/><ellipse cx="459" cy="353" rx="19" ry="3.6" fill="#d5e6ef" transform="rotate(46 459 353)"/><ellipse cx="491" cy="385" rx="12" ry="3.8" fill="#e9f1f5" transform="rotate(-27 491 385)"/><ellipse cx="392" cy="315" rx="18" ry="5.5" fill="#9cc3d9" transform="rotate(46 392 315)"/><ellipse cx="599" cy="327" rx="17" ry="5.5" fill="#e9f1f5" transform="rotate(-55 599 327)"/><ellipse cx="589" cy="400" rx="14" ry="5.3" fill="#7fb2cf" transform="rotate(-42 589 400)"/><ellipse cx="509" cy="380" rx="14" ry="4.4" fill="#9cc3d9" transform="rotate(-65 509 380)"/><ellipse cx="487" cy="379" rx="15" ry="5.5" fill="#9cc3d9" transform="rotate(16 487 379)"/><ellipse cx="568" cy="323" rx="15" ry="4.6" fill="#c9dfea" transform="rotate(61 568 323)"/><ellipse cx="292" cy="426" rx="17" ry="5.7" fill="#e9f1f5" transform="rotate(-69 292 426)"/><ellipse cx="526" cy="433" rx="20" ry="3.7" fill="#c9dfea" transform="rotate(-5 526 433)"/><ellipse cx="553" cy="414" rx="14" ry="5.7" fill="#b8d4e3" transform="rotate(59 553 414)"/><ellipse cx="597" cy="437" rx="14" ry="5.3" fill="#d5e6ef" transform="rotate(5 597 437)"/><ellipse cx="379" cy="347" rx="18" ry="3.7" fill="#9cc3d9" transform="rotate(59 379 347)"/><ellipse cx="527" cy="334" rx="16" ry="6.0" fill="#9cc3d9" transform="rotate(-23 527 334)"/><ellipse cx="566" cy="378" rx="20" ry="4.7" fill="#7fb2cf" transform="rotate(25 566 378)"/><ellipse cx="585" cy="323" rx="16" ry="5.6" fill="#e9f1f5" transform="rotate(-39 585 323)"/><ellipse cx="434" cy="333" rx="14" ry="5.2" fill="#e9f1f5" transform="rotate(2 434 333)"/><ellipse cx="587" cy="423" rx="19" ry="5.9" fill="#d5e6ef" transform="rotate(15 587 423)"/><ellipse cx="419" cy="385" rx="13" ry="3.5" fill="#e9f1f5" transform="rotate(-42 419 385)"/><ellipse cx="362" cy="381" rx="16" ry="6.0" fill="#7fb2cf" transform="rotate(-64 362 381)"/><ellipse cx="280" cy="431" rx="14" ry="4.7" fill="#7fb2cf" transform="rotate(-6 280 431)"/><ellipse cx="265" cy="368" rx="16" ry="3.8" fill="#7fb2cf" transform="rotate(44 265 368)"/><ellipse cx="379" cy="316" rx="18" ry="3.6" fill="#c9dfea" transform="rotate(-34 379 316)"/><ellipse cx="483" cy="353" rx="16" ry="4.7" fill="#e9f1f5" transform="rotate(-20 483 353)"/><ellipse cx="442" cy="421" rx="14" ry="4.8" fill="#c9dfea" transform="rotate(17 442 421)"/><ellipse cx="385" cy="360" rx="17" ry="4.8" fill="#e9f1f5" transform="rotate(-12 385 360)"/><ellipse cx="552" cy="380" rx="19" ry="5.0" fill="#9cc3d9" transform="rotate(-39 552 380)"/><ellipse cx="549" cy="342" rx="19" ry="4.3" fill="#d5e6ef" transform="rotate(34 549 342)"/><ellipse cx="338" cy="430" rx="19" ry="3.8" fill="#9cc3d9" transform="rotate(-39 338 430)"/><ellipse cx="308" cy="405" rx="15" ry="5.9" fill="#b8d4e3" transform="rotate(-34 308 405)"/><ellipse cx="427" cy="402" rx="17" ry="3.5" fill="#c9dfea" transform="rotate(-42 427 402)"/><ellipse cx="293" cy="399" rx="13" ry="4.8" fill="#d5e6ef" transform="rotate(58 293 399)"/><ellipse cx="511" cy="376" rx="18" ry="4.7" fill="#9cc3d9" transform="rotate(26 511 376)"/><ellipse cx="224" cy="410" rx="16" ry="4.0" fill="#e9f1f5" transform="rotate(16 224 410)"/><ellipse cx="477" cy="386" rx="16" ry="5.4" fill="#c9dfea" transform="rotate(-51 477 386)"/><ellipse cx="342" cy="372" rx="14" ry="4.4" fill="#7fb2cf" transform="rotate(2 342 372)"/><ellipse cx="462" cy="317" rx="16" ry="5.3" fill="#7fb2cf" transform="rotate(-42 462 317)"/><ellipse cx="373" cy="337" rx="18" ry="4.3" fill="#e9f1f5" transform="rotate(-47 373 337)"/><ellipse cx="248" cy="420" rx="20" ry="4.9" fill="#c9dfea" transform="rotate(53 248 420)"/><ellipse cx="289" cy="387" rx="14" ry="3.8" fill="#d5e6ef" transform="rotate(-22 289 387)"/><ellipse cx="505" cy="332" rx="19" ry="5.7" fill="#9cc3d9" transform="rotate(61 505 332)"/><ellipse cx="486" cy="410" rx="14" ry="4.0" fill="#7fb2cf" transform="rotate(37 486 410)"/><ellipse cx="526" cy="351" rx="20" ry="5.8" fill="#d5e6ef" transform="rotate(-56 526 351)"/>
    <polygon points="255,300 625,305 600,445 200,445 205,410" fill="url(#mesh)" opacity="0.7"/>
  </g>
  <!-- fisherman 1 -->
  <path d="M245,205 L318,200 L318,250 L322,330 L290,335 L285,260 L280,335 L250,330 Z" fill="#78923e"/>
  <path d="M238,100 C255,88 295,88 312,100 L332,190 L322,198 L312,180 L315,205 L240,212 L232,150 Z" fill="#2a2c9d"/>
  <rect x="262" y="78" width="26" height="20" fill="#e8b88f"/>
  <ellipse cx="274" cy="68" rx="20" ry="19" fill="#4d5079"/><rect x="254" y="72" width="40" height="12" rx="5" fill="#45486e"/>
  <ellipse cx="276" cy="212" rx="9" ry="8" fill="#e8b88f"/><ellipse cx="328" cy="202" rx="7" ry="7" fill="#e8b88f"/>
  <!-- fisherman 2 -->
  <path d="M498,95 C520,78 548,85 560,110 L585,170 L580,250 L572,310 L545,310 L545,215 L520,195 L505,170 L512,130 Z" fill="#2d37a0"/>
  <path d="M498,95 C505,88 520,84 530,92 L548,150 L540,190 L522,196 L505,172 L512,130 Z" fill="#d8472a"/>
  <path d="M505,195 L545,190 L548,300 L512,300 Z" fill="#ea9468"/>
  <path d="M505,195 L545,190 L548,300 L512,300 Z" fill="url(#mesh)" opacity="0.35"/>
  <rect x="487" y="72" width="24" height="20" fill="#e8b88f"/>
  <ellipse cx="498" cy="62" rx="19" ry="18" fill="#4d5079"/><rect x="479" y="66" width="38" height="11" rx="5" fill="#45486e"/>
  <ellipse cx="536" cy="195" rx="9" ry="8" fill="#e8b88f"/>
  <!-- water -->
  <path d="M70,462 C95,440 120,445 150,458 C185,472 210,448 245,455 C285,464 300,448 340,452 C380,457 400,470 440,458 C480,447 500,470 540,460 C575,450 600,445 650,470 C600,482 560,470 520,478 C480,486 450,474 410,478 C370,483 330,470 290,476 C250,483 215,470 180,478 C140,486 100,478 70,462 Z" fill="#2aa9e2"/>
  <!-- splash -->
  <g fill="#8fc7e0"><ellipse cx="640" cy="385" rx="14" ry="6" transform="rotate(30 640 385)"/><ellipse cx="655" cy="410" rx="12" ry="5" transform="rotate(70 655 410)"/><ellipse cx="648" cy="440" rx="10" ry="5" transform="rotate(100 648 440)"/><ellipse cx="630" cy="455" rx="8" ry="4"/></g>
 </g>
</svg>
<svg class="abs" style="left:553.5px;top:407.8px" width="16.4" height="15.0" viewBox="0 0 16.4 15" preserveAspectRatio="none"><g transform="rotate(180 8.2 7.5)" fill="none" stroke="#1d8fd8" stroke-linejoin="round"><path d="M8.2,0.3 L8.2,11.5" stroke-width="3.4" stroke-linecap="butt"/><path d="M2,7.9 L8.2,13.1 L14.4,7.9" stroke-width="3.6" stroke-linecap="round"/></g></svg>
<div class="abs b" style="left:572.5px;top:406px;font-size:13.5px;line-height:18px;color:#2b2440">2,7%</div>
<div class="abs b" style="left:476.8px;top:418.6px;font-size:21.1px;line-height:26px;color:#2b2440">1.004,2</div>
<div class="abs" style="left:551.2px;top:424.2px;font-size:14.05px;line-height:18px;color:#2b2440">nghìn tấn</div>
<div class="abs b" style="left:481.4px;top:451.4px;font-size:13.7px;line-height:18px;color:#2b2440">Sản lượng thủy sản</div>
<div class="abs" style="left:492.4px;top:469px;font-size:11.55px;line-height:15px;font-style:italic;color:#2b2440">(2 tháng năm 2020)</div>

<!-- SECTION 2 -->
<div class="hdr" style="top:503.9px;height:34.2px"><span>SẢN XUẤT CÔNG NGHIỆP</span></div>
<div class="lav" style="top:538px"></div><div class="gray" style="top:540.2px;height:59.6px"></div>
<div class="p" style="top:544.6px;left:82.4px;line-height:17.1px">Dịch Covid-19 tác động tiêu cực khá mạnh đến hoạt động sản xuất công nghiệp, tính chung<br>2 tháng đầu năm 2020, IIP chỉ tăng 6,2% so với cùng kỳ năm trước, thấp hơn nhiều mức<br>tăng 13,7% của cùng kỳ năm 2018 và 9,2% của cùng kỳ năm 2019.</div>


<!-- CHART -->
<div class="abs b" style="left:116.8px;top:611px;font-size:13.65px;line-height:16px;color:#2a2238">Chỉ số sản xuất công nghiệp (IIP) 2 tháng đầu năm so với cùng kỳ năm trước</div>
<div class="abs" style="left:301px;top:640px;width:16.5px;height:10px;background:#3f2850"></div>
<div class="abs b" style="left:322.3px;top:638.5px;font-size:11.4px;line-height:13px;color:#222">Năm 2020</div>
<div class="abs" style="left:390px;top:640px;width:17.5px;height:10px;background:#fab967"></div>
<div class="abs b" style="left:412.9px;top:638.5px;font-size:11.4px;line-height:13px;color:#222">Năm 2019</div>
<div class="abs" style="left:299.5px;top:665.5px;width:1.5px;height:243.5px;background:#3a3340"></div>
<div class="abs" style="left:301.0px;top:672.0px;width:154.1px;height:17.3px;background:#3f2850"></div>
<div class="abs b" style="left:459.1px;top:672.8px;font-size:14.3px;line-height:16px;color:#2a2238;transform:scaleX(0.935);transform-origin:0 50%">6,2%</div>
<div class="abs" style="left:301.0px;top:691.0px;width:228.6px;height:17.5px;background:#fab967"></div>
<div class="abs b" style="left:533.6px;top:691.8px;font-size:14.3px;line-height:16px;color:#e8a33d;transform:scaleX(0.935);transform-origin:0 50%">9,2%</div>
<div class="abs" style="left:301.0px;top:721.0px;width:183.9px;height:17.3px;background:#3f2850"></div>
<div class="abs b" style="left:488.9px;top:721.8px;font-size:14.3px;line-height:16px;color:#2a2238;transform:scaleX(0.935);transform-origin:0 50%">7,4%</div>
<div class="abs" style="left:301.0px;top:740.0px;width:283.3px;height:17.5px;background:#fab967"></div>
<div class="abs b" style="left:588.3px;top:740.8px;font-size:14.3px;line-height:16px;color:#e8a33d;transform:scaleX(0.935);transform-origin:0 50%">11,4%</div>
<div class="abs" style="left:301.0px;top:770.0px;width:208.7px;height:17.3px;background:#3f2850"></div>
<div class="abs b" style="left:513.7px;top:770.8px;font-size:14.3px;line-height:16px;color:#2a2238;transform:scaleX(0.935);transform-origin:0 50%">8,4%</div>
<div class="abs" style="left:301.0px;top:789.0px;width:231.1px;height:17.5px;background:#fab967"></div>
<div class="abs b" style="left:536.1px;top:789.8px;font-size:14.3px;line-height:16px;color:#e8a33d;transform:scaleX(0.935);transform-origin:0 50%">9,3%</div>
<div class="abs" style="left:301.0px;top:819.0px;width:121.8px;height:17.3px;background:#3f2850"></div>
<div class="abs b" style="left:426.8px;top:819.8px;font-size:14.3px;line-height:16px;color:#2a2238;transform:scaleX(0.935);transform-origin:0 50%">4,9%</div>
<div class="abs" style="left:301.0px;top:838.0px;width:159.0px;height:17.5px;background:#fab967"></div>
<div class="abs b" style="left:464.0px;top:838.8px;font-size:14.3px;line-height:16px;color:#e8a33d;transform:scaleX(0.935);transform-origin:0 50%">6,4%</div>
<div class="abs" style="left:208.1px;top:868.0px;width:91.9px;height:17.3px;background:#3f2850"></div>
<div class="abs b" style="left:307.5px;top:868.8px;font-size:14.3px;line-height:16px;color:#2a2238;transform:scaleX(0.935);transform-origin:0 50%">-3,7%</div>
<div class="abs" style="left:213.0px;top:887.0px;width:87.0px;height:17.5px;background:#fab967"></div>
<div class="abs b" style="left:307.5px;top:887.8px;font-size:14.3px;line-height:16px;color:#e8a33d;transform:scaleX(0.935);transform-origin:0 50%">-3,5%</div>

<div class="abs" style="left:300.5px;top:689.4px;width:7.5px;height:1.3px;background:#4a3428"></div>
<div class="abs" style="left:300.5px;top:738.4px;width:7.5px;height:1.3px;background:#4a3428"></div>
<div class="abs" style="left:300.5px;top:787.4px;width:7.5px;height:1.3px;background:#4a3428"></div>
<div class="abs" style="left:300.5px;top:836.4px;width:7.5px;height:1.3px;background:#4a3428"></div>
<!-- INDUSTRY ICONS -->
<svg class="abs" style="left:225.2px;top:665.0px" width="58.0" height="36.3" viewBox="-29 -29 58 36.3"><defs><clipPath id="d1"><rect x="-29" y="-29" width="58" height="36.3"/></clipPath></defs><circle r="28" fill="#e6565a" clip-path="url(#d1)"/><g fill="#fff" stroke="none"><polygon points="-20.29,5.19 -20.29,-1.00 -18.00,-1.88 -18.00,-3.65 -15.88,-4.54 -13.22,-5.42 -6.15,-4.54 -6.15,-10.72 -4.39,-12.49 0.03,-14.61 4.45,-14.26 7.10,-12.49 7.10,-16.91 8.87,-18.14 9.75,-20.44 10.64,-18.14 12.40,-16.91 12.40,-1.00 13.82,-1.00 13.82,-11.61 15.05,-12.84 16.29,-11.61 16.29,-1.00 17.71,-0.12 17.71,5.19"/><g fill="#e6565a"><polygon points="-19.06,-2.77 -18.53,-2.77 -18.53,4.30 -19.06,4.30"/></g></g></svg>
<svg class="abs" style="left:229.9px;top:720.2px" width="48.0" height="29.8" viewBox="-24 -24 48 29.8"><defs><clipPath id="d2"><rect x="-24" y="-24" width="48" height="29.8"/></clipPath></defs><circle r="23" fill="#e6565a" clip-path="url(#d2)"/><g fill="#fff" stroke="none"><rect x="-12.13" y="-15.59" width="1.94" height="2.21" transform="rotate(0.0 -11.16 -9.76)"/><rect x="-12.13" y="-15.59" width="1.94" height="2.21" transform="rotate(45.0 -11.16 -9.76)"/><rect x="-12.13" y="-15.59" width="1.94" height="2.21" transform="rotate(90.0 -11.16 -9.76)"/><rect x="-12.13" y="-15.59" width="1.94" height="2.21" transform="rotate(135.0 -11.16 -9.76)"/><rect x="-12.13" y="-15.59" width="1.94" height="2.21" transform="rotate(180.0 -11.16 -9.76)"/><rect x="-12.13" y="-15.59" width="1.94" height="2.21" transform="rotate(225.0 -11.16 -9.76)"/><rect x="-12.13" y="-15.59" width="1.94" height="2.21" transform="rotate(270.0 -11.16 -9.76)"/><rect x="-12.13" y="-15.59" width="1.94" height="2.21" transform="rotate(315.0 -11.16 -9.76)"/><circle cx="-11.16" cy="-9.76" r="3.45" fill="none" stroke="#fff" stroke-width="1.86"/><rect x="-1.98" y="-21.51" width="1.09" height="1.24" transform="rotate(0.0 -1.44 -18.24)"/><rect x="-1.98" y="-21.51" width="1.09" height="1.24" transform="rotate(51.42857142857143 -1.44 -18.24)"/><rect x="-1.98" y="-21.51" width="1.09" height="1.24" transform="rotate(102.85714285714286 -1.44 -18.24)"/><rect x="-1.98" y="-21.51" width="1.09" height="1.24" transform="rotate(154.28571428571428 -1.44 -18.24)"/><rect x="-1.98" y="-21.51" width="1.09" height="1.24" transform="rotate(205.71428571428572 -1.44 -18.24)"/><rect x="-1.98" y="-21.51" width="1.09" height="1.24" transform="rotate(257.14285714285717 -1.44 -18.24)"/><rect x="-1.98" y="-21.51" width="1.09" height="1.24" transform="rotate(308.57142857142856 -1.44 -18.24)"/><circle cx="-1.44" cy="-18.24" r="1.93" fill="none" stroke="#fff" stroke-width="1.04"/><rect x="2.61" y="-0.65" width="1.09" height="1.24" transform="rotate(0.0 3.16 2.61)"/><rect x="2.61" y="-0.65" width="1.09" height="1.24" transform="rotate(51.42857142857143 3.16 2.61)"/><rect x="2.61" y="-0.65" width="1.09" height="1.24" transform="rotate(102.85714285714286 3.16 2.61)"/><rect x="2.61" y="-0.65" width="1.09" height="1.24" transform="rotate(154.28571428571428 3.16 2.61)"/><rect x="2.61" y="-0.65" width="1.09" height="1.24" transform="rotate(205.71428571428572 3.16 2.61)"/><rect x="2.61" y="-0.65" width="1.09" height="1.24" transform="rotate(257.14285714285717 3.16 2.61)"/><rect x="2.61" y="-0.65" width="1.09" height="1.24" transform="rotate(308.57142857142856 3.16 2.61)"/><circle cx="3.16" cy="2.61" r="1.93" fill="none" stroke="#fff" stroke-width="1.04"/><rect x="-9.78" y="-3.25" width="0.78" height="0.88" transform="rotate(0.0 -9.39 -0.92)"/><rect x="-9.78" y="-3.25" width="0.78" height="0.88" transform="rotate(60.0 -9.39 -0.92)"/><rect x="-9.78" y="-3.25" width="0.78" height="0.88" transform="rotate(120.0 -9.39 -0.92)"/><rect x="-9.78" y="-3.25" width="0.78" height="0.88" transform="rotate(180.0 -9.39 -0.92)"/><rect x="-9.78" y="-3.25" width="0.78" height="0.88" transform="rotate(240.0 -9.39 -0.92)"/><rect x="-9.78" y="-3.25" width="0.78" height="0.88" transform="rotate(300.0 -9.39 -0.92)"/><circle cx="-9.39" cy="-0.92" r="1.38" fill="none" stroke="#fff" stroke-width="0.74"/><line x1="-3.20" y1="-2.69" x2="10.58" y2="-14.18" stroke="#fff" stroke-width="2.2" stroke-linecap="round"/><circle cx="11.82" cy="-15.41" r="2.6" fill="none" stroke="#fff" stroke-width="1.8"/><circle cx="-4.44" cy="-1.63" r="2.2" fill="none" stroke="#fff" stroke-width="1.5"/><line x1="1.75" y1="-12.41" x2="6.52" y2="-7.64" stroke="#fff" stroke-width="1.3" stroke-linecap="round"/><line x1="7.05" y1="-7.11" x2="12.35" y2="-1.45" stroke="#fff" stroke-width="3.4" stroke-linecap="round"/></g></svg>
<svg class="abs" style="left:230.5px;top:763.9px" width="47.4" height="29.7" viewBox="-23.7 -23.7 47.4 29.7"><defs><clipPath id="d3"><rect x="-23.7" y="-23.7" width="47.4" height="29.7"/></clipPath></defs><circle r="22.7" fill="#e6565a" clip-path="url(#d3)"/><g fill="#fff" stroke="none"><line x1="-11.46" y1="-13.39" x2="-11.46" y2="4.81" stroke="#fff" stroke-width="1.5" stroke-linecap="round"/><line x1="-15.35" y1="-11.27" x2="-7.57" y2="-11.27" stroke="#fff" stroke-width="1.1" stroke-linecap="round"/><line x1="-14.57" y1="-8.44" x2="-8.35" y2="-8.44" stroke="#fff" stroke-width="1.0" stroke-linecap="round"/><line x1="3.04" y1="-11.62" x2="3.04" y2="4.81" stroke="#fff" stroke-width="1.5" stroke-linecap="round"/><line x1="-0.50" y1="-9.50" x2="6.57" y2="-9.50" stroke="#fff" stroke-width="1.1" stroke-linecap="round"/><line x1="0.21" y1="-6.68" x2="5.86" y2="-6.68" stroke="#fff" stroke-width="1.0" stroke-linecap="round"/><line x1="15.94" y1="-9.86" x2="15.94" y2="4.81" stroke="#fff" stroke-width="1.5" stroke-linecap="round"/><line x1="12.93" y1="-7.74" x2="18.94" y2="-7.74" stroke="#fff" stroke-width="1.1" stroke-linecap="round"/><line x1="13.53" y1="-4.91" x2="18.34" y2="-4.91" stroke="#fff" stroke-width="1.0" stroke-linecap="round"/></g></svg>
<svg class="abs" style="left:230.7px;top:807.9px" width="47.4" height="29.7" viewBox="-23.7 -23.7 47.4 29.7"><defs><clipPath id="d4"><rect x="-23.7" y="-23.7" width="47.4" height="29.7"/></clipPath></defs><circle r="22.7" fill="#e6565a" clip-path="url(#d4)"/><g fill="#fff" stroke="none"><polygon points="-7.30,-18.66 3.89,-18.66 3.89,-16.98 -7.30,-16.98"/><polygon points="-3.66,-16.98 0.26,-16.98 0.26,-14.74 -3.66,-14.74"/><polygon points="-8.70,-14.74 6.69,-14.74 8.93,-12.50 8.93,-10.26 5.29,-10.26 5.29,-11.38 -4.50,-11.38 -4.50,0.37 -8.70,0.37"/><polygon points="5.29,-9.70 8.93,-9.70 8.37,-7.46 5.85,-7.46"/><polygon points="3.89,-5.79 15.09,-5.79 14.53,2.61 4.45,2.61"/><g fill="#e6565a"><polygon points="6.13,-3.55 12.85,-3.55 12.57,-0.75 6.41,-0.75"/></g><polygon points="-18.49,0.93 -1.70,-0.19 3.89,2.61 19.28,2.05 19.28,3.73 -18.49,3.73"/></g></svg>
<svg class="abs" style="left:150.3px;top:865.9px" width="47.4" height="29.3" viewBox="-23.7 -23.7 47.4 29.299999999999997"><defs><clipPath id="d5"><rect x="-23.7" y="-23.7" width="47.4" height="29.299999999999997"/></clipPath></defs><circle r="22.7" fill="#e6565a" clip-path="url(#d5)"/><g fill="#fff" stroke="none"><polygon points="-10.84,1.13 -6.64,-9.50 -3.84,-10.62 -0.21,-5.87 2.59,-7.27 5.95,1.13"/><polygon points="-0.21,-15.66 2.03,-16.22 9.31,1.13 6.51,1.13 3.15,-7.27 0.91,1.13 -1.88,1.13"/><polygon points="-8.04,-12.30 10.99,-16.78 11.55,-14.54 -7.48,-9.50"/><polygon points="9.31,-17.90 12.66,-16.78 13.22,-8.67 10.99,-7.83"/><polygon points="-9.16,-13.42 -6.36,-13.98 -5.24,-9.50 -8.04,-8.95"/><polygon points="-12.24,0.57 12.94,0.57 12.94,2.25 -12.24,2.25"/></g></svg>
<div class="abs b" style="right:391.7px;top:701.3px;font-size:11.3px;line-height:14px;color:#2b2440;text-align:right">Toàn ngành</div>
<div class="abs b" style="right:391.0px;top:750.3px;font-size:11.3px;line-height:14px;color:#2b2440;text-align:right">Chế biến, chế tạo</div>
<div class="abs b" style="right:390.6px;top:795.2px;font-size:11.4px;line-height:14px;color:#2b2440;text-align:right">Sản xuất và phân phối điện</div>
<div class="abs b" style="right:387.4px;top:838.3px;font-size:10.3px;line-height:14px;color:#2b2440;text-align:right">Cung cấp nước, hoạt động quản lý</div>
<div class="abs b" style="right:387.4px;top:851.7px;font-size:10.3px;line-height:14px;color:#2b2440;text-align:right">và xử lý rác thải, nước thải</div>
<div class="abs b" style="right:479.2px;top:894.3px;font-size:11.4px;line-height:14px;color:#2b2440;text-align:right">Khai khoáng</div>
</body></html>
